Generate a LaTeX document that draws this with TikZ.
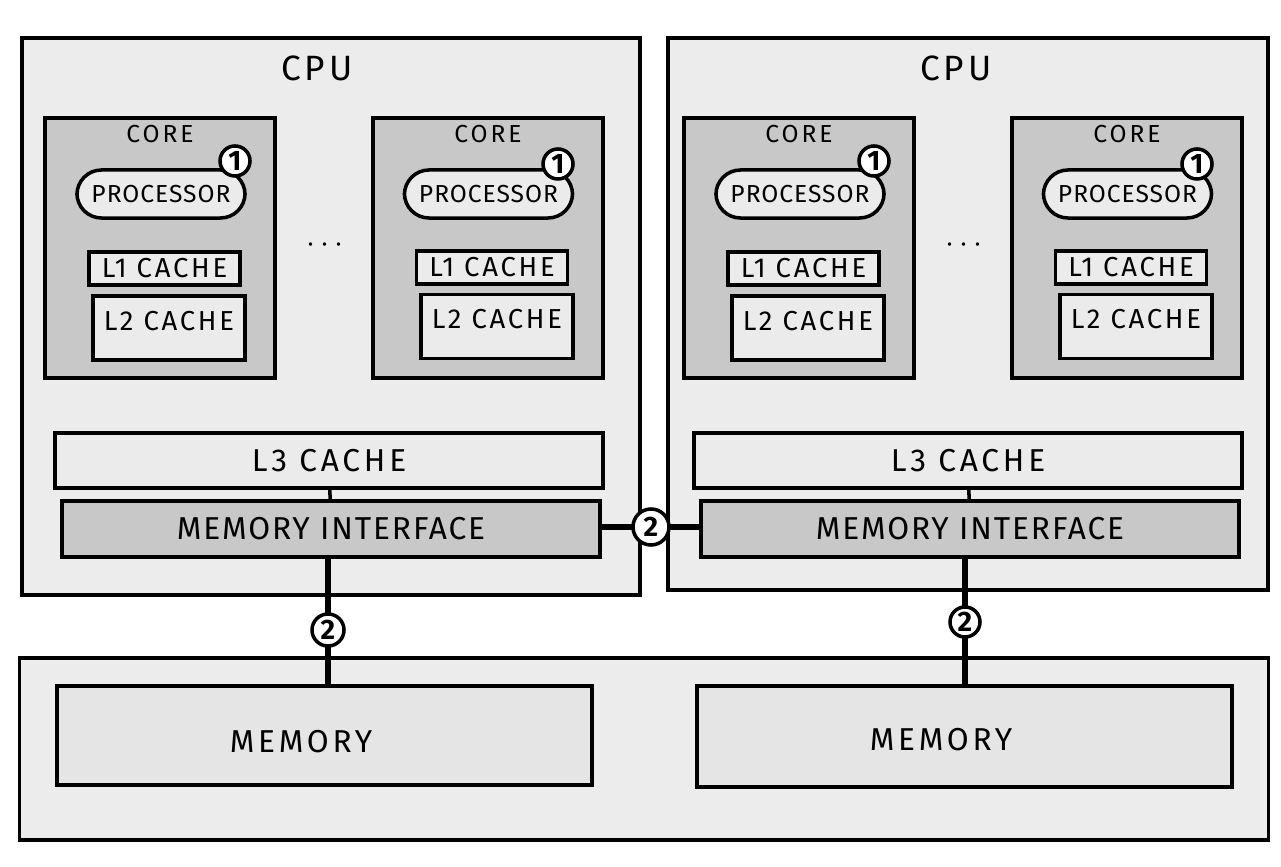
\documentclass[tikz,border=0pt]{standalone}
\usepackage{fontspec}
\setmainfont{Fira Sans}[LetterSpace=12]
\usetikzlibrary{positioning}
\definecolor{paneltone}{RGB}{236,236,236}
\definecolor{coretone}{RGB}{200,200,200}
\definecolor{celltone}{RGB}{235,235,235}
\definecolor{memtone}{RGB}{229,229,229}

\begin{document}
\begin{tikzpicture}[x=0.01cm, y=-0.01cm,
  panel/.style={draw, line width=1pt, fill=paneltone, inner sep=0pt},
  core/.style={draw, line width=1pt, fill=coretone, inner sep=0pt, minimum width=2.3cm, minimum height=2.6cm},
  cell/.style={draw, line width=1pt, fill=celltone, inner sep=0pt, font=\fontsize{7.8}{10}\selectfont\addfontfeature{LetterSpace=10}},
  proc/.style={cell, rounded corners=7pt, minimum width=1.68cm, minimum height=0.48cm, font=\fontsize{7}{9}\selectfont\addfontfeature{LetterSpace=4}},
  badge/.style={draw, circle, fill=white, line width=1pt, inner sep=0pt, minimum size=0.3cm, font=\fontsize{8}{9}\selectfont\bfseries},
  tag/.style={inner sep=0pt, font=\fontsize{9}{11}\selectfont},
  wide/.style={font=\fontsize{9}{11}\selectfont\addfontfeature{LetterSpace=6}},
  link/.style={line width=1.8pt}
]
\useasboundingbox (0,0) rectangle (1281,867);

% outer boxes
\node[panel, minimum width=6.18cm, minimum height=5.57cm] (cpu1) at (331,316.5) {};
\node[panel, minimum width=6.00cm, minimum height=5.52cm] (cpu2) at (968,314) {};
\node[panel, minimum width=12.48cm, minimum height=1.82cm] (board) at (644,749) {};

% one cpu, twice
\foreach \i/\dx in {1/0, 2/639} {
  \begin{scope}[shift={(\dx,0)}]
    \node[tag, font=\fontsize{10}{12}\selectfont] (cpulbl\i) at (317,68) {CPU};
    % first core
    \node[core] (corea\i) at (160,248) {};
    \node[tag, font=\fontsize{7}{9}\selectfont, below=2.5pt of corea\i.north] (corealbl\i) {CORE};
    \node[proc] (proca\i) at (161,194) {PROCESSOR};
    \node[badge] (onea\i) at (235,161) {1};
    \node[cell, minimum width=1.51cm, minimum height=0.33cm] (lonea\i) at (164.5,268.5) {L1 CACHE};
    \node[cell, minimum width=1.52cm, minimum height=0.64cm, text depth=0.15cm] (ltwoa\i) at (169,328) {L2 CACHE};
    \node[tag] (dots\i) at (325,245) {$\cdots$};
    % last core
    \node[core] (coreb\i) at (488,248) {};
    \node[tag, font=\fontsize{7}{9}\selectfont, below=2.5pt of coreb\i.north] (coreblbl\i) {CORE};
    \node[proc] (procb\i) at (488.5,194) {PROCESSOR};
    \node[badge] (oneb\i) at (558,164) {1};
    \node[cell, minimum width=1.51cm, minimum height=0.33cm] (loneb\i) at (492,267.5) {L1 CACHE};
    \node[cell, minimum width=1.52cm, minimum height=0.64cm, text depth=0.15cm] (ltwob\i) at (497,326.5) {L2 CACHE};
    % shared parts
    \node[cell, minimum width=5.48cm, minimum height=0.55cm, font=\fontsize{9}{11}\selectfont] (lthree\i) at (329,460.5) {L3 CACHE};
    \node[cell, wide, fill=coretone, minimum width=5.38cm, minimum height=0.56cm] (mi\i) at (331,529) {MEMORY INTERFACE};
    \draw[line width=1pt] (lthree\i) -- (mi\i);
  \end{scope}
}

% memory banks
\node[cell, fill=memtone, minimum width=5.35cm, minimum height=0.99cm] (mem1) at (324.5,735.5) {};
\node[tag] (memlbl1) at (301,742) {MEMORY};
\node[cell, fill=memtone, minimum width=5.35cm, minimum height=1.01cm] (mem2) at (964.5,736.5) {};
\node[tag] (memlbl2) at (941,740) {MEMORY};

% links
\coordinate (jl) at (328,630);
\coordinate (jr) at (965,622);
\coordinate (jm) at (651,527);
\draw[link] (mi1.south -| jl) -- (jl |- mem1.north);
\draw[link] (mi2.south -| jr) -- (jr |- mem2.north);
\draw[link] (mi1.east |- jm) -- (mi2.west |- jm);
\node[badge, minimum size=0.32cm] (twol) at (jl) {2};
\node[badge, minimum size=0.3cm] (twor) at (jr) {2};
\node[badge, minimum size=0.36cm] (twom) at (jm) {2};
\end{tikzpicture}
\end{document}
